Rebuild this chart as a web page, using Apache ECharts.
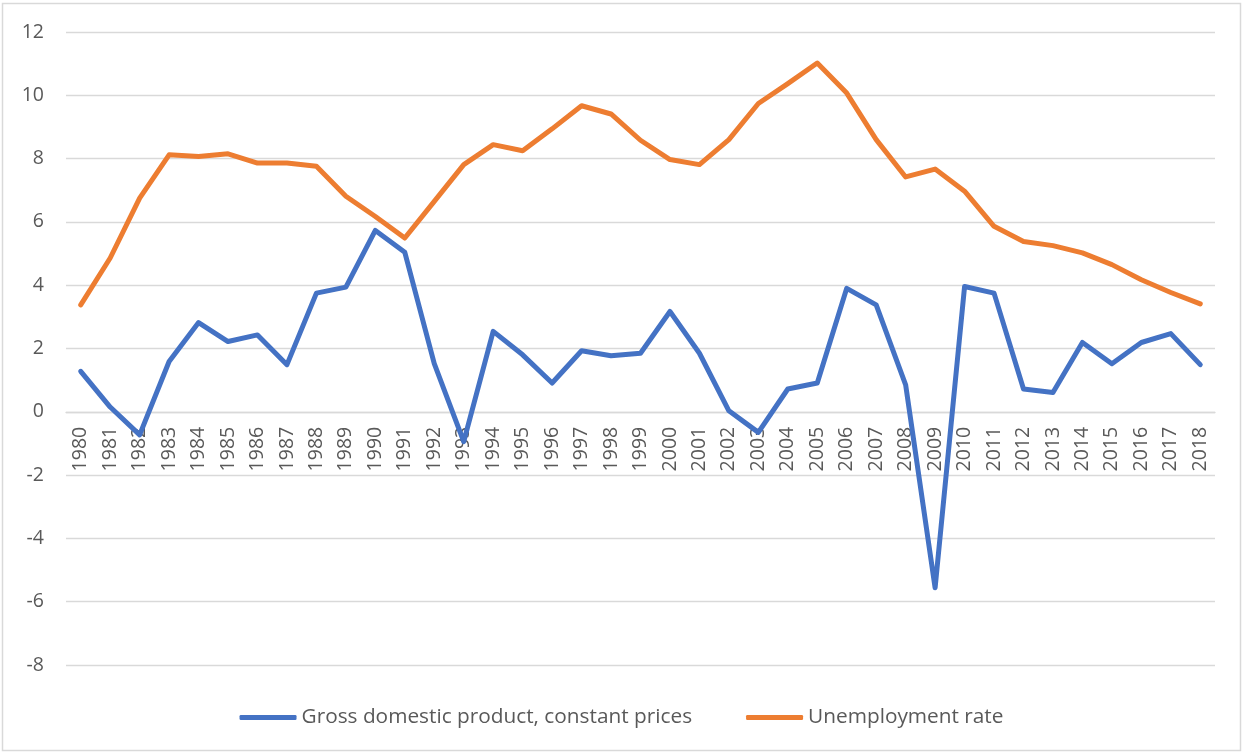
<!DOCTYPE html>
<html>
<head>
<meta charset="utf-8">
<script src="https://cdn.jsdelivr.net/npm/echarts@6/dist/echarts.min.js"></script>
<style>
html,body{margin:0;padding:0;background:#fff;}
#chart{width:1243px;height:753px;}
</style>
</head>
<body>
<div id="chart"></div>
<script>
const years = ["1980","1981","1982","1983","1984","1985","1986","1987","1988","1989","1990","1991","1992","1993","1994","1995","1996","1997","1998","1999","2000","2001","2002","2003","2004","2005","2006","2007","2008","2009","2010","2011","2012","2013","2014","2015","2016","2017","2018"];
const gdp = [1.28,0.15,-0.73,1.59,2.82,2.22,2.43,1.49,3.75,3.94,5.73,5.04,1.52,-0.94,2.54,1.80,0.91,1.93,1.77,1.85,3.17,1.85,0.03,-0.65,0.72,0.91,3.90,3.38,0.85,-5.56,3.96,3.75,0.72,0.61,2.19,1.52,2.19,2.47,1.49];
const unemployment = [3.38,4.86,6.75,8.12,8.07,8.15,7.86,7.86,7.76,6.81,6.17,5.49,6.65,7.81,8.44,8.25,8.94,9.67,9.41,8.58,7.97,7.81,8.60,9.74,10.37,11.02,10.07,8.60,7.42,7.67,6.97,5.86,5.38,5.25,5.02,4.65,4.17,3.77,3.41];
const seriesNames = ["Gross domestic product, constant prices","Unemployment rate"];

const chart = echarts.init(document.getElementById('chart'));
const font = '"Open Sans", "Noto Sans", sans-serif';
const yMin = -8, yMax = 12;
const gridTop = 32, gridBottom = 88, H = 753;
const plotH = H - gridTop - gridBottom;
// shift x-axis from bottom edge of grid up to the zero line
const zeroOffset = -plotH * (0 - yMin) / (yMax - yMin);
chart.setOption({
  animation:false,
  backgroundColor:'#fff',
  color:['#4472C4','#ED7D31'],
  graphic:[{type:'rect',shape:{x:2.5,y:3.5,width:1238,height:747},style:{fill:'none',stroke:'#d9d9d9',lineWidth:1.5},silent:true}],
  grid:{left:66,right:28,top:gridTop,bottom:gridBottom,containLabel:false},
  legend:{
    top:702,left:'center',
    itemWidth:57,itemHeight:5,itemGap:54,icon:'roundRect',
    textStyle:{fontFamily:font,fontSize:20.8,color:'#595959'},
    data:seriesNames
  },
  xAxis:{
    type:'category',data:years,boundaryGap:true,
    offset:zeroOffset,
    axisLine:{onZero:false,lineStyle:{color:'#d9d9d9',width:1.3}},
    axisTick:{show:false},
    axisLabel:{rotate:90,interval:0,margin:15,fontFamily:font,fontSize:19.5,color:'#595959'},
    splitLine:{show:false}
  },
  yAxis:{
    type:'value',min:yMin,max:yMax,interval:2,
    axisLine:{show:false},axisTick:{show:false},
    axisLabel:{margin:22,fontFamily:font,fontSize:19.5,color:'#595959'},
    splitLine:{lineStyle:{color:'#d9d9d9',width:1.3}}
  },
  series:[
    {name:seriesNames[0],type:'line',data:gdp,showSymbol:false,symbol:'none',lineStyle:{width:5,cap:'round',join:'round'}},
    {name:seriesNames[1],type:'line',data:unemployment,showSymbol:false,symbol:'none',lineStyle:{width:5,cap:'round',join:'round'}}
  ]
});
</script>
</body>
</html>
